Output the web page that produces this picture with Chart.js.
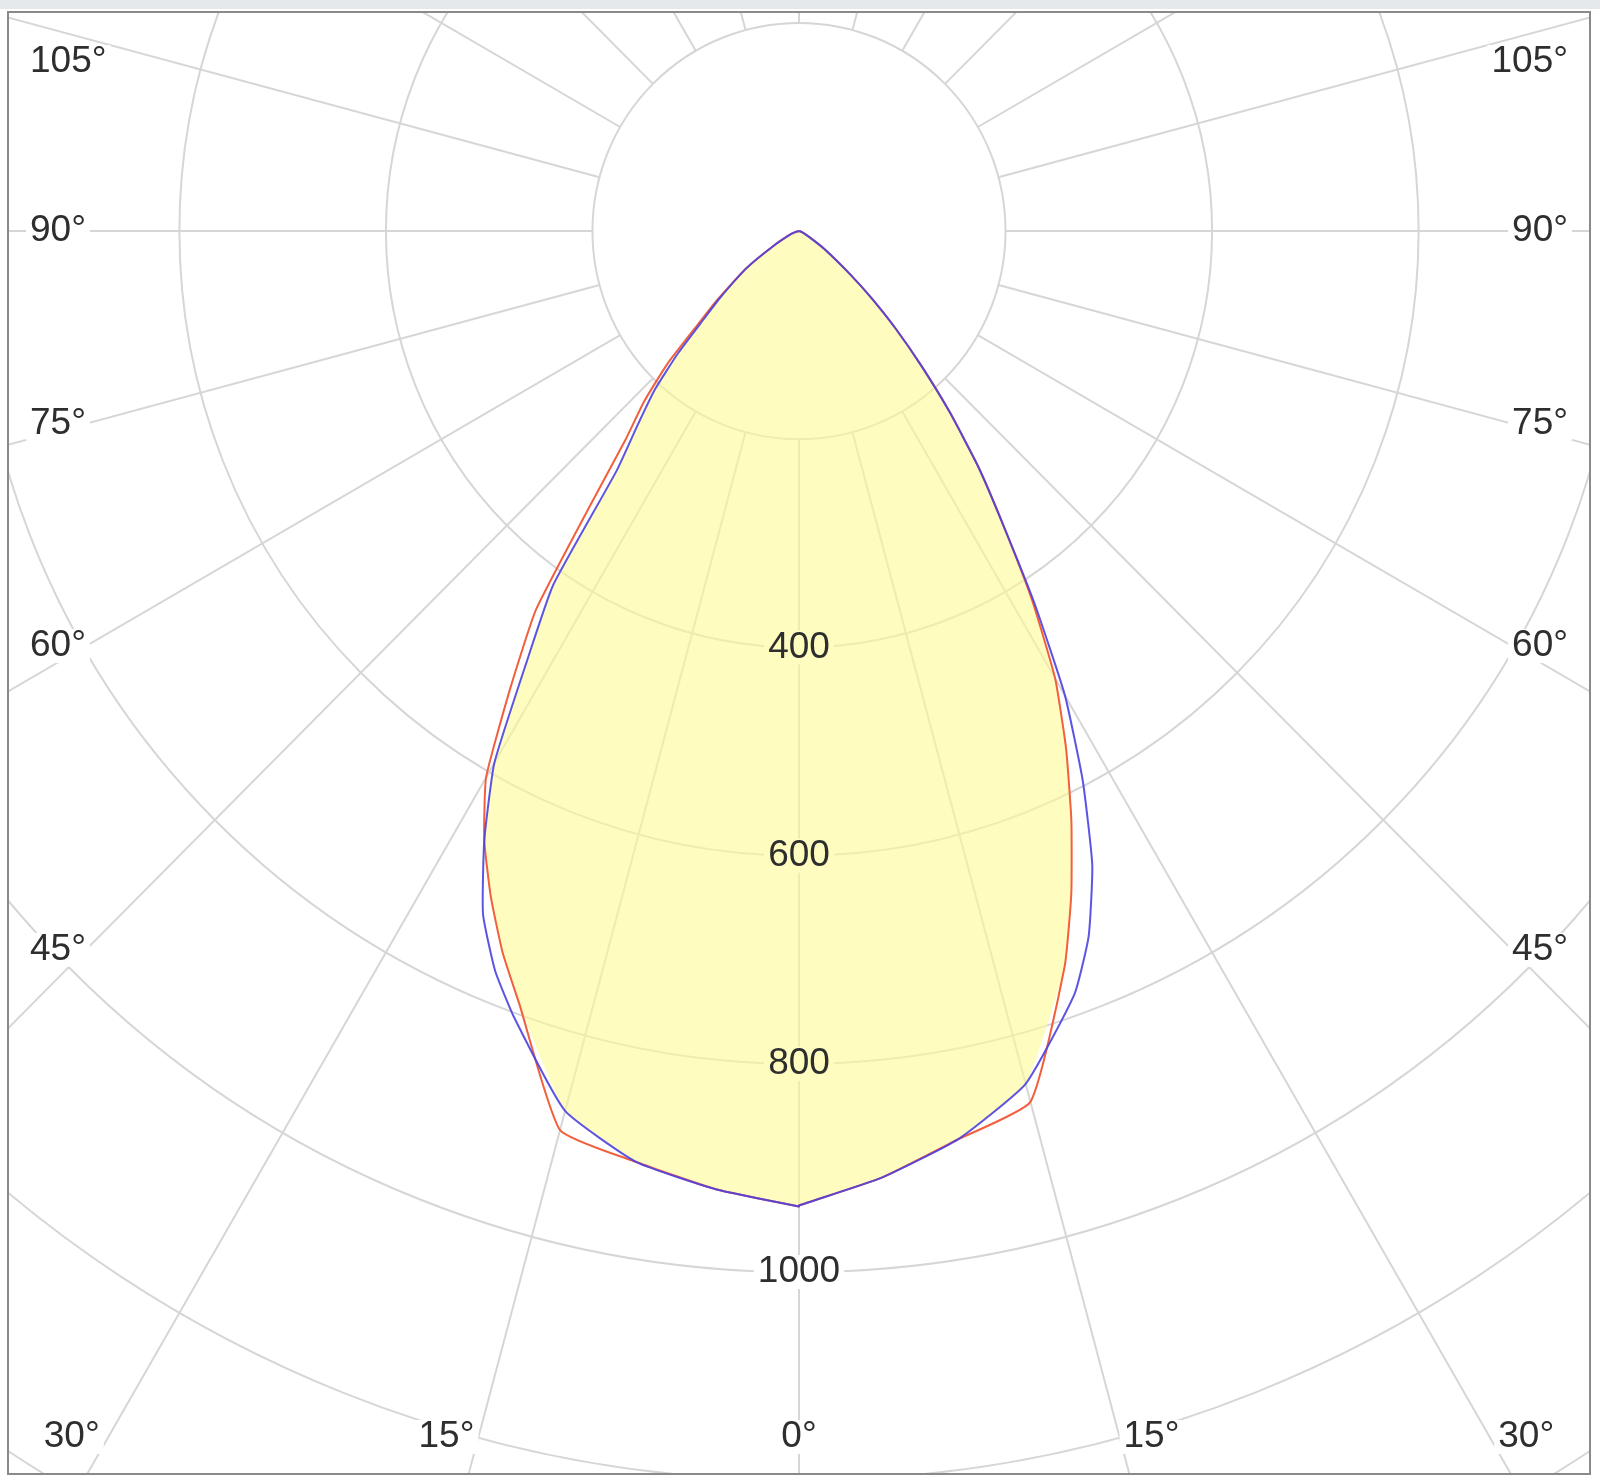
<!DOCTYPE html>
<html>
<head>
<meta charset="utf-8">
<script src="https://cdn.jsdelivr.net/npm/chart.js@4.4.1/dist/chart.umd.min.js"></script>
<style>
  html, body { margin: 0; padding: 0; background: #fff; }
  #wrap { width: 1600px; height: 1484px; }
</style>
</head>
<body>
<div id="wrap"><canvas id="chart" width="1600" height="1484"></canvas></div>
<script>
// gamma angles in degrees from nadir, shared by every half plane
const angles = [0, 5, 10, 15, 20, 22.5, 25, 27.5, 30, 32.5, 35, 37.5, 40, 42.5, 45, 47.5, 50, 55, 60, 70, 80, 90]

// luminous intensity (cd), red = C0/C180, blue = C90/C270
const redLeft   = [937, 924, 908, 894, 791, 750, 706, 660, 606, 520, 444, 332, 261, 222, 180, 133, 105, 63, 29, 8, 2, 0]
const redRight  = [936, 913, 886, 866, 752, 689, 624, 560, 496, 420, 345, 285, 227, 175, 132, 95, 65, 30, 12, 3, 1, 0]
const blueLeft  = [937, 924, 908, 875, 805, 769, 724, 660, 590, 491, 415, 290, 243, 207, 165, 125, 100, 62, 29, 8, 2, 0]
const blueRight = [936, 913, 886, 848, 780, 733, 672, 595, 515, 425, 345, 285, 227, 175, 132, 95, 65, 30, 12, 3, 1, 0]

// yellow area = inner envelope of both planes
const fillLeft  = [937, 924, 908, 875, 791, 750, 706, 660, 590, 491, 415, 290, 243, 207, 165, 125, 100, 62, 29, 8, 2, 0]
const fillRight = [936, 913, 886, 848, 752, 689, 624, 560, 496, 420, 345, 285, 227, 175, 132, 95, 65, 30, 12, 3, 1, 0]

const ringValues = [200, 400, 600, 800, 1000, 1200, 1400, 1600]
const ringLabels = [400, 600, 800, 1000]
const angleLabels = [0, 15, 30, 45, 60, 75, 90, 105]
const rayStep = 15

const GRID = 'rgb(214,214,214)'
const TEXT = '#2e2e2e'
const FONT = '37px "Liberation Sans", Arial, sans-serif'
const CURVE_TENSION = 0.15

// left half runs 90 -> 0, right half 0 -> 90, so the outline is one closed loop
function outline(left, right) {
  const pts = []
  for (let i = angles.length - 1; i >= 0; i--) {
    const t = angles[i] * Math.PI / 180
    pts.push({ x: -left[i] * Math.sin(t), y: -left[i] * Math.cos(t) })
  }
  for (let i = 0; i < angles.length; i++) {
    const t = angles[i] * Math.PI / 180
    pts.push({ x: right[i] * Math.sin(t), y: -right[i] * Math.cos(t) })
  }
  return pts
}

// where every text label goes, worked out from the scales
function labelSpots(chart) {
  const { ctx, chartArea: a, scales: { x, y } } = chart
  const cx = x.getPixelForValue(0), cy = y.getPixelForValue(0)
  const kx = x.getPixelForValue(1) - cx, ky = cy - y.getPixelForValue(1)
  const spots = []
  ctx.save()
  ctx.font = FONT
  const add = (text, px, py, align) => {
    const w = ctx.measureText(text).width
    const left = align === 'center' ? px - w / 2 : (align === 'right' ? px - w : px)
    spots.push({ text, px, py, align, left, w })
  }
  ringLabels.forEach(v => add(String(v), cx, cy + v * ky, 'center'))

  const box = { left: a.left + 21, right: a.right - 21, top: a.top + 49, bottom: a.bottom - 36 }
  angleLabels.forEach(g => {
    const text = g + '°'
    if (g === 0) { add(text, cx, box.bottom, 'center'); return }
    const w = ctx.measureText(text).width
    const t = g * Math.PI / 180
    const sx = Math.sin(t) * kx, sy = Math.cos(t) * ky
    ;[-1, 1].forEach(side => {
      const edge = side < 0 ? box.left + w : box.right - w
      let ly = cy + (Math.abs(edge - cx) / sx) * sy
      if (ly <= box.bottom) {
        ly = Math.max(ly, box.top)
        if (side < 0) add(text, box.left, ly, 'left')
        else add(text, box.right, ly, 'right')
      } else {
        const xc = cx + side * ((box.bottom + 15 - cy) / sy) * sx
        if (side < 0) add(text, Math.max(box.left, xc - w), box.bottom, 'left')
        else add(text, Math.min(box.right, xc + w), box.bottom, 'right')
      }
    })
  })
  ctx.restore()
  return spots
}

const polarGrid = {
  id: 'polarGrid',
  beforeDraw(chart) {
    const { ctx, width } = chart
    ctx.save()
    ctx.fillStyle = '#e6e9ec'
    ctx.fillRect(0, 0, width, 9)
    ctx.restore()
  },
  beforeDatasetsDraw(chart) {
    const { ctx, chartArea: a, scales: { x, y } } = chart
    const cx = x.getPixelForValue(0), cy = y.getPixelForValue(0)
    const kx = x.getPixelForValue(1) - cx, ky = cy - y.getPixelForValue(1)

    ctx.save()
    ctx.beginPath()
    ctx.rect(a.left, a.top, a.right - a.left, a.bottom - a.top)
    ctx.clip()

    ctx.strokeStyle = GRID
    ctx.lineWidth = 2
    ringValues.forEach(v => {
      ctx.beginPath()
      ctx.ellipse(cx, cy, v * kx, v * ky, 0, 0, 2 * Math.PI)
      ctx.stroke()
    })
    const inner = ringValues[0], outer = 2400
    for (let g = 0; g < 360; g += rayStep) {
      const t = g * Math.PI / 180
      ctx.beginPath()
      ctx.moveTo(cx + inner * Math.sin(t) * kx, cy + inner * Math.cos(t) * ky)
      ctx.lineTo(cx + outer * Math.sin(t) * kx, cy + outer * Math.cos(t) * ky)
      ctx.stroke()
    }

    // white gaps behind the labels, under the yellow area
    ctx.fillStyle = '#fff'
    labelSpots(chart).forEach(s => ctx.fillRect(s.left - 4, s.py - 17, s.w + 8, 34))
    ctx.restore()
  },
  afterDatasetsDraw(chart) {
    const { ctx } = chart
    ctx.save()
    ctx.font = FONT
    ctx.textBaseline = 'middle'
    ctx.fillStyle = TEXT
    labelSpots(chart).forEach(s => {
      ctx.textAlign = s.align
      ctx.fillText(s.text, s.px, s.py)
    })
    ctx.restore()
  },
  afterDraw(chart) {
    const { ctx, chartArea: a } = chart
    ctx.save()
    ctx.strokeStyle = '#8a8a8a'
    ctx.lineWidth = 2
    ctx.strokeRect(a.left - 1, a.top - 1, a.right - a.left + 2, a.bottom - a.top + 2)
    ctx.restore()
  }
}

new Chart(document.getElementById('chart'), {
  type: 'scatter',
  data: {
    datasets: [
      {
        label: 'C90 - C270',
        data: outline(blueLeft, blueRight),
        showLine: true,
        tension: CURVE_TENSION,
        borderColor: 'rgba(75,65,225,0.9)',
        borderWidth: 2,
        pointRadius: 0,
        fill: false
      },
      {
        label: 'C0 - C180',
        data: outline(redLeft, redRight),
        showLine: true,
        tension: CURVE_TENSION,
        borderColor: 'rgb(242,95,60)',
        borderWidth: 2,
        pointRadius: 0,
        fill: false
      },
      {
        label: 'area',
        data: outline(fillLeft, fillRight),
        showLine: true,
        tension: CURVE_TENSION,
        borderWidth: 0,
        borderColor: 'rgba(0,0,0,0)',
        backgroundColor: 'rgba(255,250,150,0.6)',
        pointRadius: 0,
        fill: 'shape'
      }
    ]
  },
  options: {
    responsive: false,
    devicePixelRatio: 1,
    animation: false,
    layout: { padding: { left: 9, top: 13, right: 11, bottom: 11 } },
    scales: {
      x: { type: 'linear', min: -765, max: 765, display: false },
      y: { type: 'linear', min: -1193, max: 209.5, display: false }
    },
    plugins: {
      legend: { display: false },
      tooltip: { enabled: false }
    }
  },
  plugins: [polarGrid]
})
</script>
</body>
</html>
